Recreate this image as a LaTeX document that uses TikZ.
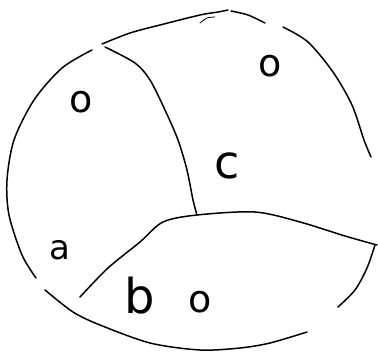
\documentclass[tikz,border=0pt]{standalone}
\usepackage{fontspec}
\setmainfont{DejaVu Sans}
\begin{document}
\begin{tikzpicture}[x=1pt,y=-1pt,
  ink/.style={line width=1.5pt,line cap=round,line join=round},
  lbl/.style={inner sep=0pt,font=\fontsize{38}{38}\selectfont}]
\useasboundingbox (0,0) rectangle (378,355);
% outer boundary
\draw[ink] plot[smooth] coordinates {(36,278) (22,255) (9,215) (7,180) (14,140) (34,100) (62,68) (92,50)};
\draw[ink] plot[smooth] coordinates {(102,44) (130,33) (160,25) (200,15) (218,12) (228,10)};
\draw[ink] plot[smooth] coordinates {(231,11) (248,15) (265,23)};
\draw[ink] plot[smooth] coordinates {(283,27) (308,42) (333,72) (352,105) (364,140) (371,157)};
\draw[ink] plot[smooth] coordinates {(375,245) (367,268) (355,290) (338,307)};
\draw[ink] plot[smooth] coordinates {(307,332) (270,343) (240,348) (200,350) (150,343) (100,325) (73,312) (45,290)};
\draw[ink,line width=0.8pt] plot[smooth] coordinates {(200,23) (207,18) (215,17)};
% inner curves
\coordinate (j) at (197,215);
\draw[ink] plot[smooth] coordinates {(105,47) (135,63) (150,80) (165,110) (178,140) (187,170) (193,200) (j)};
\draw[ink] plot[smooth] coordinates {(80,297) (108,268) (140,242) (163,222) (j) (255,212) (300,222) (345,236) (377,245)};
% labels
\node[lbl] (o1) at (270,66) {o};
\node[lbl] (o2) at (81,102) {o};
\node[lbl,font=\fontsize{46}{46}\selectfont] (c) at (227,166) {c};
\node[lbl,font=\fontsize{34}{34}\selectfont] (a) at (60,250) {a};
\node[lbl,font=\fontsize{48}{48}\selectfont] (b) at (140,296) {b};
\node[lbl] (o3) at (200,302) {o};
\end{tikzpicture}
\end{document}
